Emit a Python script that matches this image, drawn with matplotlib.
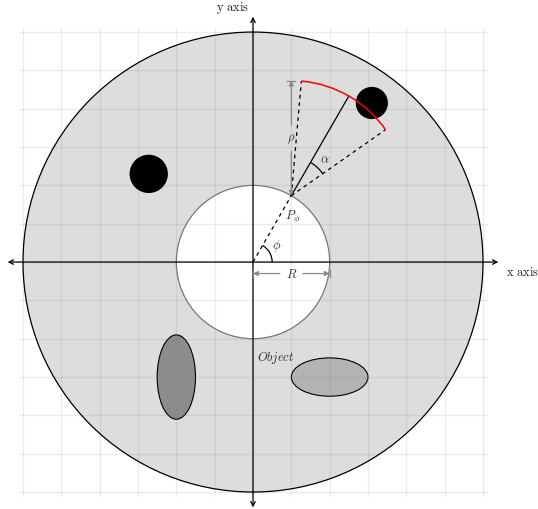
#!/usr/bin/env python3
# fan-beam geometry sketch: object disk, inner circle, source point P_phi

import numpy as np
import matplotlib
matplotlib.use('Agg')
import matplotlib.pyplot as plt
from matplotlib.patches import Circle, Ellipse, Arc

plt.rcParams['mathtext.fontset'] = 'cm'
plt.rcParams['font.family'] = 'serif'
plt.rcParams['font.serif'] = ['DejaVu Serif']

# geometry values (units)
outer_radius = 6.0
inner_radius = 2.0
grid_ticks = list(range(-6, 7))
phi_deg = 60.0
half_fan_deg = 25.0
rho = 3.0

# black disks: x, y, r
disk_x = [-2.72, 3.1]
disk_y = [2.3, 4.15]
disk_r = [0.5, 0.42]

# ellipses: x, y, width, height, face colour
ell_x = [-2.0, 2.0]
ell_y = [-3.0, -3.0]
ell_w = [1.0, 2.0]
ell_h = [2.2, 1.0]
ell_c = ['#8c8c8c', '#b3b3b3']

fig = plt.figure(figsize=(5.38, 5.10), dpi=100)
ax = fig.add_axes([0, 0, 1, 1])
ax.set_xlim(-6.60, 7.435)
ax.set_ylim(-6.44, 6.86)
ax.set_aspect('equal')
ax.axis('off')

# filled regions
ax.add_patch(Circle((0, 0), outer_radius, facecolor='#dddddd', edgecolor='none', zorder=1))
ax.add_patch(Circle((0, 0), inner_radius, facecolor='white', edgecolor='none', zorder=1))
for x, y, w, h, c in zip(ell_x, ell_y, ell_w, ell_h, ell_c):
    ax.add_patch(Ellipse((x, y), w, h, facecolor=c, edgecolor='black', lw=0.8, zorder=2))

# grid on top of the fills
for t in grid_ticks:
    ax.plot([t, t], [-6.1, 6.1], color='gray', alpha=0.15, lw=1, zorder=3)
    ax.plot([-6.1, 6.1], [t, t], color='gray', alpha=0.15, lw=1, zorder=3)

ax.add_patch(Circle((0, 0), outer_radius, facecolor='none', edgecolor='black', lw=0.9, zorder=4))
ax.add_patch(Circle((0, 0), inner_radius, facecolor='none', edgecolor='#777777', lw=0.9, zorder=4))
for x, y, r in zip(disk_x, disk_y, disk_r):
    ax.add_patch(Circle((x, y), r, facecolor='black', edgecolor='none', zorder=4))

# axes with arrows
arr = dict(arrowstyle='<->', color='black', lw=0.9, shrinkA=0, shrinkB=0,
           mutation_scale=8)
ax.annotate('', xy=(6.4, 0), xytext=(-6.4, 0), arrowprops=arr, zorder=5)
ax.annotate('', xy=(0, 6.4), xytext=(0, -6.4), arrowprops=arr, zorder=5)
ax.text(6.6, -0.25, r'$\mathrm{x\ axis}$', fontsize=9, ha='left', va='center', color='#222222')
ax.text(-0.1, 6.65, r'$\mathrm{y\ axis}$', fontsize=9, ha='right', va='center', color='#222222')

# source point
ph = np.radians(phi_deg)
px, py = inner_radius * np.cos(ph), inner_radius * np.sin(ph)
ax.plot([0, px], [0, py], ls=(0, (3, 3)), color='black', lw=0.9, zorder=5)
ax.add_patch(Arc((0, 0), 1.0, 1.0, theta1=0, theta2=phi_deg, color='black', lw=0.9, zorder=5))
ax.text(0.62, 0.45, r'$\phi$', fontsize=9, ha='center', va='center', color='#333333')
ax.text(px + 0.02, py - 0.55, r'$P_\phi$', fontsize=9, ha='center', va='center', color='#333333')

# fan
a1 = phi_deg - half_fan_deg
a2 = phi_deg + half_fan_deg
for a in [a1, a2]:
    ar = np.radians(a)
    ax.plot([px, px + rho * np.cos(ar)], [py, py + rho * np.sin(ar)],
            ls=(0, (3, 3)), color='black', lw=0.9, zorder=5)
ax.plot([px, px + rho * np.cos(ph)], [py, py + rho * np.sin(ph)], color='black', lw=0.9, zorder=5)
ax.add_patch(Arc((px, py), 2 * rho, 2 * rho, theta1=a1, theta2=a2, color='red', lw=1.1, zorder=5))
ax.add_patch(Arc((px, py), 2.0, 2.0, theta1=a1, theta2=phi_deg, color='black', lw=0.9, zorder=5))
am = np.radians((a1 + phi_deg) / 2)
ax.text(px + 1.3 * np.cos(am), py + 1.3 * np.sin(am), r'$\alpha$', fontsize=9,
        ha='center', va='center', color='#333333')

# dimension lines
dim = dict(arrowstyle='-|>', color='#888888', lw=0.9, shrinkA=0, shrinkB=0, mutation_scale=7)
# rho
ax.annotate('', xy=(px, py + rho), xytext=(px, py + rho / 2 + 0.35), arrowprops=dim, zorder=5)
ax.annotate('', xy=(px, py), xytext=(px, py + rho / 2 - 0.35), arrowprops=dim, zorder=5)
ax.plot([px - 0.1, px + 0.1], [py + rho, py + rho], color='#888888', lw=0.9, zorder=5)
ax.text(px, py + rho / 2, r'$\rho$', fontsize=9, ha='center', va='center', color='#333333')
# R
ry = -0.3
ax.annotate('', xy=(0, ry), xytext=(inner_radius / 2 - 0.3, ry), arrowprops=dim, zorder=5)
ax.annotate('', xy=(inner_radius, ry), xytext=(inner_radius / 2 + 0.3, ry), arrowprops=dim, zorder=5)
ax.plot([inner_radius, inner_radius], [ry - 0.1, ry + 0.1], color='#888888', lw=0.9, zorder=5)
ax.plot([0, 0], [ry - 0.1, ry + 0.1], color='#888888', lw=0.9, zorder=5)
ax.text(inner_radius / 2, ry, r'$R$', fontsize=9, ha='center', va='center', color='#333333')

ax.text(0.6, -2.48, r'$Object$', fontsize=9, ha='center', va='center', color='#333333')

fig.savefig('out.png', dpi=100)
